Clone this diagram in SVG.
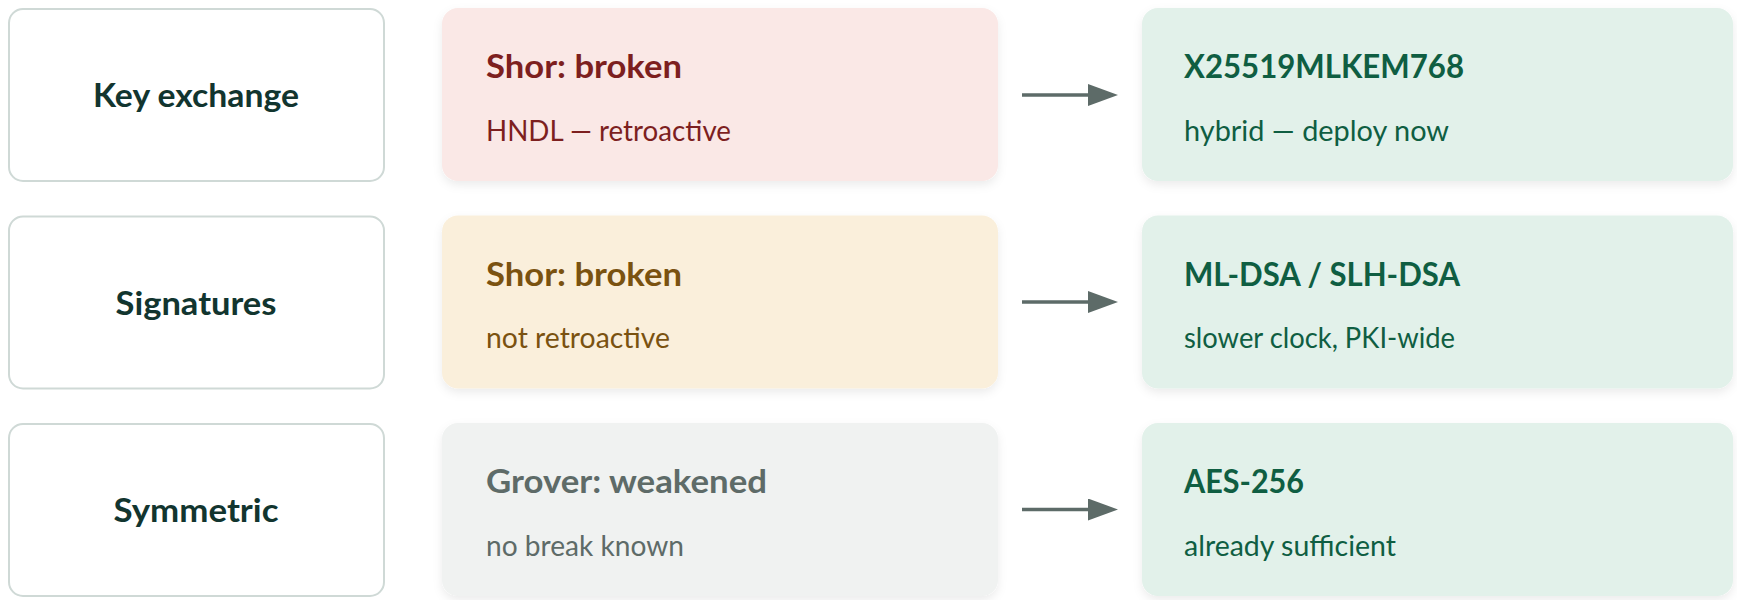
<svg xmlns="http://www.w3.org/2000/svg" width="1737" height="600" viewBox="0 0 1737 600">
  <style>
    .lbl rect { fill: #ffffff; stroke: #cfd9d6; stroke-width: 2; }
    .lbl text { font-family: Lato, "Open Sans", sans-serif; font-weight: 700; font-size: 32px; fill: #12352f; text-anchor: middle; }
    .card rect { filter: url(#sh); }
    .t { font-family: Lato, "Open Sans", sans-serif; font-weight: 700; font-size: 32px; }
    .s { font-family: Lato, "Open Sans", sans-serif; font-weight: 400; font-size: 28px; }
    .red rect { fill: #fae8e6; } .red text { fill: #7d1f1f; }
    .yel rect { fill: #faefdb; } .yel text { fill: #7a5210; }
    .gry rect { fill: #f0f2f1; } .gry text { fill: #5e6b68; }
    .grn rect { fill: #e2f1ea; } .grn text { fill: #0f5e42; }
    .conn line { stroke: #5d6b68; stroke-width: 3.5; }
  </style>
  <defs>
    <filter id="sh" x="-10%" y="-20%" width="120%" height="150%">
      <feDropShadow dx="0" dy="4" stdDeviation="5" flood-color="#000000" flood-opacity="0.08"/>
    </filter>
    <marker id="ah" markerUnits="userSpaceOnUse" markerWidth="32" markerHeight="24" refX="2" refY="11" orient="auto">
      <path d="M0,0 L30,11 L0,22 Z" fill="#5d6b68"/>
    </marker>
  </defs>

  <g id="label-key-exchange" class="lbl">
    <rect x="9" y="9" width="375" height="172" rx="14"/>
    <text x="196" y="107" textLength="206" lengthAdjust="spacingAndGlyphs">Key exchange</text>
  </g>
  <g id="label-signatures" class="lbl">
    <rect x="9" y="216.5" width="375" height="172" rx="14"/>
    <text x="196" y="315" textLength="161" lengthAdjust="spacingAndGlyphs">Signatures</text>
  </g>
  <g id="label-symmetric" class="lbl">
    <rect x="9" y="424" width="375" height="172" rx="14"/>
    <text x="196" y="522" textLength="165" lengthAdjust="spacingAndGlyphs">Symmetric</text>
  </g>

  <g id="threat-key-exchange" class="card red">
    <rect x="442" y="8" width="556" height="173" rx="16"/>
    <text class="t" x="486" y="78" textLength="196" lengthAdjust="spacingAndGlyphs">Shor: broken</text>
    <text class="s" x="486" y="141" textLength="245" lengthAdjust="spacingAndGlyphs">HNDL — retroactive</text>
  </g>
  <g id="threat-signatures" class="card yel">
    <rect x="442" y="215.5" width="556" height="173" rx="16"/>
    <text class="t" x="486" y="286" textLength="196" lengthAdjust="spacingAndGlyphs">Shor: broken</text>
    <text class="s" x="486" y="348" textLength="184" lengthAdjust="spacingAndGlyphs">not retroactive</text>
  </g>
  <g id="threat-symmetric" class="card gry">
    <rect x="442" y="423" width="556" height="173" rx="16"/>
    <text class="t" x="486" y="493" textLength="281" lengthAdjust="spacingAndGlyphs">Grover: weakened</text>
    <text class="s" x="486" y="556" textLength="198" lengthAdjust="spacingAndGlyphs">no break known</text>
  </g>

  <g id="fix-key-exchange" class="card grn">
    <rect x="1142" y="8" width="591" height="173" rx="16"/>
    <text class="t" x="1184" y="78" textLength="280" lengthAdjust="spacingAndGlyphs">X25519MLKEM768</text>
    <text class="s" x="1184" y="141" textLength="265" lengthAdjust="spacingAndGlyphs">hybrid — deploy now</text>
  </g>
  <g id="fix-signatures" class="card grn">
    <rect x="1142" y="215.5" width="591" height="173" rx="16"/>
    <text class="t" x="1184" y="286" textLength="276" lengthAdjust="spacingAndGlyphs">ML-DSA / SLH-DSA</text>
    <text class="s" x="1184" y="348" textLength="271" lengthAdjust="spacingAndGlyphs">slower clock, PKI-wide</text>
  </g>
  <g id="fix-symmetric" class="card grn">
    <rect x="1142" y="423" width="591" height="173" rx="16"/>
    <text class="t" x="1184" y="493" textLength="120" lengthAdjust="spacingAndGlyphs">AES-256</text>
    <text class="s" x="1184" y="556" textLength="212" lengthAdjust="spacingAndGlyphs">already sufficient</text>
  </g>

  <g id="connectors" class="conn">
    <line x1="1022" y1="95" x2="1090" y2="95" marker-end="url(#ah)"/>
    <line x1="1022" y1="302" x2="1090" y2="302" marker-end="url(#ah)"/>
    <line x1="1022" y1="509.5" x2="1090" y2="509.5" marker-end="url(#ah)"/>
  </g>
</svg>
